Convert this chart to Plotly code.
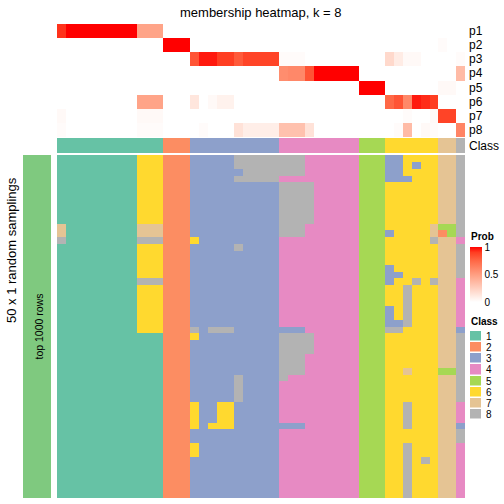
import plotly.graph_objects as go

# ---------------- data ----------------
TITLE = "membership heatmap, k = 8"
PROB_LABELS = ["p1", "p2", "p3", "p4", "p5", "p6", "p7", "p8"]

# membership probabilities per column (46 columns), one list per class
p1 = [0.92, 1, 1, 1, 1, 1, 1, 1, 1, 0.47, 0.47, 0.47, 0, 0, 0,
      0, 0, 0, 0, 0, 0, 0, 0, 0, 0, 0, 0, 0, 0, 0, 0, 0, 0, 0,
      0, 0, 0, 0, 0, 0, 0, 0, 0, 0, 0, 0]
p2 = [0, 0, 0, 0, 0, 0, 0, 0, 0, 0, 0, 0, 1, 1, 1,
      0, 0, 0, 0, 0, 0, 0, 0, 0, 0, 0, 0, 0, 0, 0, 0, 0, 0, 0,
      0, 0, 0, 0, 0, 0, 0, 0, 0, 0.02, 0, 0]
p3 = [0, 0, 0, 0, 0, 0, 0, 0, 0, 0, 0, 0, 0, 0, 0,
      0.82, 0.96, 0.96, 0.9, 0.9, 0.8, 0.88, 0.88, 0.88, 0.88,
      0.02, 0.02, 0.02, 0, 0, 0, 0, 0, 0,
      0, 0, 0, 0.2, 0.1, 0.03, 0.03, 0, 0, 0, 0, 0.02]
p4 = [0, 0, 0, 0, 0, 0, 0, 0, 0, 0, 0, 0, 0, 0, 0,
      0, 0, 0, 0, 0, 0, 0, 0, 0, 0,
      0.58, 0.6, 0.6, 0.82, 1, 1, 1, 1, 1,
      0, 0, 0, 0, 0, 0, 0, 0, 0, 0, 0, 0.35]
p5 = [0, 0, 0, 0, 0, 0, 0, 0, 0, 0, 0, 0, 0, 0, 0,
      0, 0, 0, 0, 0, 0, 0, 0, 0, 0,
      0, 0, 0, 0, 0, 0, 0, 0, 0,
      1, 1, 1, 0, 0, 0, 0, 0, 0, 0.03, 0.03, 0]
p6 = [0, 0, 0, 0, 0, 0, 0, 0, 0, 0.47, 0.47, 0.47, 0, 0, 0,
      0.13, 0, 0.03, 0.07, 0.07, 0, 0, 0, 0, 0,
      0, 0, 0, 0, 0, 0, 0, 0, 0,
      0, 0, 0, 0.75, 0.82, 0.6, 0.96, 0.93, 0.9, 0, 0, 0]
p7 = [0.03, 0, 0, 0, 0, 0, 0, 0, 0, 0.03, 0.03, 0.03, 0, 0, 0,
      0, 0, 0, 0, 0, 0, 0, 0, 0, 0,
      0, 0, 0, 0, 0, 0, 0, 0, 0,
      0, 0, 0, 0, 0, 0.02, 0, 0, 0.03, 0.88, 0.88, 0]
p8 = [0.02, 0, 0, 0, 0, 0, 0, 0, 0, 0.02, 0.02, 0.02, 0, 0, 0,
      0, 0.02, 0, 0, 0, 0.15, 0.09, 0.09, 0.09, 0.09,
      0.32, 0.32, 0.32, 0.15, 0, 0, 0, 0, 0,
      0, 0, 0, 0, 0.02, 0.35, 0, 0.03, 0.02, 0, 0, 0.62]

# consensus class of each column
COLUMN_CLASS = "1111111111112223333333333444444444555666666778"

# class of each column in each of the 50 random samplings (one string per row)
SAMPLINGS = [
    "111111111666222333338888888844444455533666677" "8",
    "111111111666222333338888888844444455533636677" "8",
    "111111111666222333333888888844444455533666677" "8",
    "111111111666222333338888844444444455533366677" "8",
    "111111111666222333333333388884444455566666677" "8",
    "111111111666222333333333388884444455566666677" "8",
    "111111111666222333333333388884444455566666677" "8",
    "111111111666222333333333388884444455566666677" "8",
    "111111111666222333333333388884444455566666677" "8",
    "111111111666222333333333388884444455566666677" "8",
    "711111111777222333333333388844444455566666755" "8",
    "711111111777222333333333388844444455536666725" "8",
    "811111111888222633333333344444444455566666877" "4",
    "111111111666222333338333344444444455566666677" "8",
    "111111111666222333333333344444444455566666677" "8",
    "111111111666222333333333344444444455566666677" "8",
    "111111111666222333333333344444444455536666677" "8",
    "111111111666222333333333344444444455533666677" "8",
    "111111111888222333333333344444444455536686877" "4",
    "111111111666222333333333344444444455566866677" "4",
    "111111111666222333333333344444444455566866677" "4",
    "111111111666222333333333344444444455566866677" "4",
    "111111111666222333333333344444444455536866677" "4",
    "111111111666222333333333344444444455536866677" "4",
    "111111111666222333333333344444444455533866677" "4",
    "111111111666222838883333333344444455588666677" "3",
    "111111111111222633333333388884444455566666677" "8",
    "111111111111222333333333388884444455566666677" "8",
    "111111111111222333333333388884444455566666677" "8",
    "111111111111222333333333388844444455566666677" "8",
    "111111111111222333333333388844444455566666677" "8",
    "111111111111222333333333388844444455566766655" "8",
    "111111111111222333338333384444444455566666677" "8",
    "111111111111222333338333344444444455566666677" "8",
    "111111111111222333338333344444444455566666677" "8",
    "111111111111222333338333344444444455566666677" "8",
    "111111111111222633663333344444444455566866677" "4",
    "111111111111222633663333344444444455566866677" "4",
    "111111111111222633663333344444444455566866677" "4",
    "111111111111222636663333333344444455566866677" "3",
    "111111111111222333333333344444444455566666677" "8",
    "111111111111222333333333344444444455566666677" "8",
    "111111111111222633333333344444444455566866677" "4",
    "111111111111222633333333344444444455566866677" "4",
    "111111111111222333333333344444444455566868677" "4",
    "111111111111222333333333344444444455566866677" "4",
    "111111111111222333333333344444444455566866677" "4",
    "111111111111222333333333344444444455566866677" "4",
    "111111111111222333333333344444444455566866677" "4",
    "111111111111222333333333344444444455566866677" "4",
]

CLASS_NAMES = ["1", "2", "3", "4", "5", "6", "7", "8"]
CLASS_COLORS = ["#66C2A5", "#FC8D62", "#8DA0CB", "#E78AC3",
                "#A6D854", "#FFD92F", "#E5C494", "#B3B3B3"]
SIDE_COLOR = "#7FC97F"
PROB_TICKS = [0, 0.5, 1]

# ---------------- checks ----------------
_bad = [(i, len(r)) for i, r in enumerate(SAMPLINGS) if len(r) != len(COLUMN_CLASS)]
_badp = [(i, len(p)) for i, p in enumerate([p1, p2, p3, p4, p5, p6, p7, p8]) if len(p) != len(COLUMN_CLASS)]
if _bad or _badp or len(COLUMN_CLASS) != 46:
    raise ValueError(f"bad lengths rows={_bad} probs={_badp} cols={len(COLUMN_CLASS)}")

# ---------------- helpers ----------------
W = H = 504
FONT = "Liberation Sans, Arial, sans-serif"


def fx(px):
    return px / W


def fy(px):
    return 1 - px / H


def discrete_scale(colors):
    n = len(colors)
    cs = []
    for i, c in enumerate(colors):
        cs.append([i / n, c])
        cs.append([(i + 1) / n, c])
    return cs


PROB_SCALE = [[0, "#FFFFFF"], [0.1, "rgb(255,236,229)"], [0.25, "rgb(255,207,191)"],
              [0.5, "rgb(255,158,129)"], [0.75, "rgb(255,104,70)"],
              [0.9, "rgb(255,62,34)"], [1, "rgb(255,0,0)"]]
CLASS_SCALE = discrete_scale(CLASS_COLORS)

prob = [p1, p2, p3, p4, p5, p6, p7, p8]
ncol = len(COLUMN_CLASS)
cols = list(range(ncol))
col_class = [[int(c) for c in COLUMN_CLASS]]
main = [[int(c) for c in row] for row in SAMPLINGS]
nrow = len(main)

fig = go.Figure()

fig.add_trace(go.Heatmap(
    z=prob, x=cols, y=list(range(len(prob))), xaxis="x", yaxis="y",
    zmin=0, zmax=1, colorscale=PROB_SCALE, hoverinfo="skip",
    showscale=True,
    colorbar=dict(x=fx(470), xanchor="left", xpad=0, y=fy(247), yanchor="top", ypad=0,
                  len=55, lenmode="pixels", thickness=12, thicknessmode="pixels",
                  outlinewidth=0, tickvals=PROB_TICKS, ticktext=["0", "0.5", "1"],
                  ticks="",
                  tickfont=dict(size=10, family=FONT, color="#000"))))

fig.add_trace(go.Heatmap(
    z=col_class, x=cols, y=[0], xaxis="x", yaxis="y2",
    zmin=0.5, zmax=8.5, colorscale=CLASS_SCALE, showscale=False, hoverinfo="skip"))

fig.add_trace(go.Heatmap(
    z=main, x=cols, y=list(range(nrow)), xaxis="x", yaxis="y3",
    zmin=0.5, zmax=8.5, colorscale=CLASS_SCALE, showscale=False, hoverinfo="skip"))

fig.add_trace(go.Heatmap(
    z=[[1]], x=[0], y=[0], xaxis="x2", yaxis="y4",
    colorscale=[[0, SIDE_COLOR], [1, SIDE_COLOR]], showscale=False, hoverinfo="skip"))

fig.add_trace(go.Heatmap(
    z=[[i + 1] for i in range(len(CLASS_NAMES))], x=[0], y=list(range(len(CLASS_NAMES))),
    xaxis="x3", yaxis="y5", zmin=0.5, zmax=8.5, colorscale=CLASS_SCALE,
    showscale=False, ygap=1.5, hoverinfo="skip"))

hidden = dict(visible=False, showgrid=False, zeroline=False, fixedrange=True)


def note(text, x, y, size, xanchor="center", yanchor="middle", yref="paper", angle=0):
    return dict(text=text, x=x, y=y, xref="paper", yref=yref, xanchor=xanchor,
                yanchor=yanchor, showarrow=False, textangle=angle,
                font=dict(size=size, family=FONT, color="#000"))


annotations = [
    note(TITLE, fx(261), fy(12), 13),
    note("50 x 1 random samplings", fx(11), fy(250), 13, angle=-90),
    note("top 1000 rows", fx(38), fy(326.5), 10.5, angle=-90),
    note("<b>Prob</b>", fx(469), fy(236), 10, xanchor="left"),
    note("<b>Class</b>", fx(469), fy(321), 10, xanchor="left"),
]
for i, lab in enumerate(PROB_LABELS):
    annotations.append(note(lab, fx(467), i, 12, xanchor="left", yref="y"))
annotations.append(note("Class", fx(467), 0, 12, xanchor="left", yref="y2"))
for i, lab in enumerate(CLASS_NAMES):
    annotations.append(note(lab, fx(484), i, 10, xanchor="left", yref="y5"))

fig.update_layout(
    width=W, height=H, margin=dict(l=0, r=0, t=0, b=0, autoexpand=False),
    paper_bgcolor="white", plot_bgcolor="white", showlegend=False,
    xaxis=dict(domain=[fx(57), fx(465)], range=[-0.5, ncol - 0.5], anchor="y3", **hidden),
    yaxis=dict(domain=[fy(137), fy(24)], range=[len(prob) - 0.5, -0.5], anchor="x", **hidden),
    yaxis2=dict(domain=[fy(153), fy(138)], range=[0.5, -0.5], anchor="x", **hidden),
    yaxis3=dict(domain=[fy(498), fy(155)], range=[nrow - 0.5, -0.5], anchor="x", **hidden),
    xaxis2=dict(domain=[fx(23), fx(51)], range=[-0.5, 0.5], anchor="y4", **hidden),
    yaxis4=dict(domain=[fy(498), fy(155)], range=[0.5, -0.5], anchor="x2", **hidden),
    xaxis3=dict(domain=[fx(470), fx(481)], range=[-0.5, 0.5], anchor="y5", **hidden),
    yaxis5=dict(domain=[fy(420), fy(331)], range=[len(CLASS_NAMES) - 0.5, -0.5],
                anchor="x3", **hidden),
    annotations=annotations,
)

fig.write_html("out.html", config={"displayModeBar": False},
               post_script="document.body.style.margin='0px';")
